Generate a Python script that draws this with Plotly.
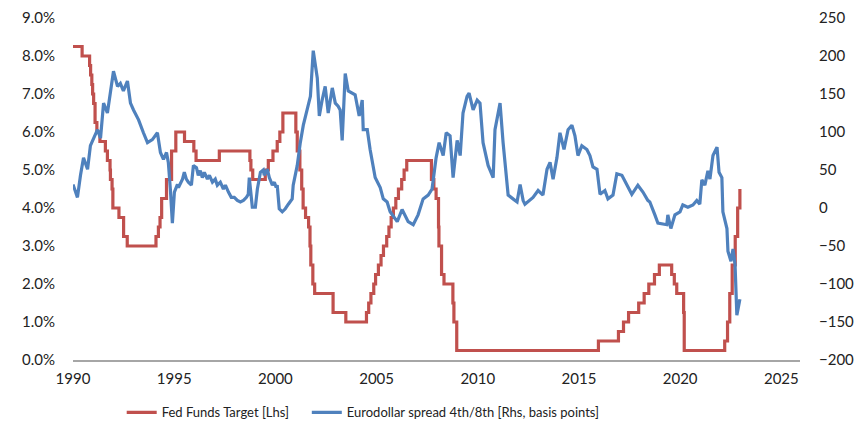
import plotly.graph_objects as go

# Fed Funds Target (upper bound, %), change dates as decimal years
ff_dates = [1990.0, 1990.45, 1990.82, 1990.87, 1990.93, 1990.97, 1991.02, 1991.09, 1991.18, 1991.33,
            1991.6, 1991.7, 1991.83, 1991.85, 1991.93, 1991.97, 1992.27, 1992.5, 1992.68,
            1994.1, 1994.22, 1994.3, 1994.38, 1994.62, 1994.87, 1995.08, 1995.51, 1995.97, 1996.08,
            1997.23, 1998.74, 1998.79, 1998.88, 1999.5, 1999.65, 1999.88, 2000.09, 2000.22, 2000.37,
            2001.01, 2001.08, 2001.21, 2001.3, 2001.37, 2001.49, 2001.64, 2001.71, 2001.75, 2001.85, 2001.94,
            2002.85, 2003.48, 2004.5, 2004.61, 2004.72, 2004.86, 2004.95, 2005.09, 2005.22, 2005.34,
            2005.5, 2005.61, 2005.72, 2005.83, 2005.95, 2006.08, 2006.24, 2006.36, 2006.49,
            2007.71, 2007.83, 2007.94, 2008.06, 2008.08, 2008.21, 2008.33, 2008.77, 2008.82, 2008.96,
            2015.96, 2016.95, 2017.2, 2017.45, 2017.95, 2018.22, 2018.45, 2018.73, 2018.97,
            2019.58, 2019.71, 2019.83, 2020.17, 2020.2, 2022.2, 2022.34, 2022.45, 2022.57, 2022.72,
            2022.84, 2022.95]
ff_values = [8.25, 8.0, 7.75, 7.5, 7.25, 7.0, 6.75, 6.25, 6.0, 5.75,
             5.5, 5.25, 5.0, 4.75, 4.5, 4.0, 3.75, 3.25, 3.0,
             3.25, 3.5, 3.75, 4.25, 4.75, 5.5, 6.0, 5.75, 5.5, 5.25,
             5.5, 5.25, 5.0, 4.75, 5.0, 5.25, 5.5, 5.75, 6.0, 6.5,
             6.0, 5.5, 5.0, 4.5, 4.0, 3.75, 3.5, 3.0, 2.5, 2.0, 1.75,
             1.25, 1.0, 1.25, 1.5, 1.75, 2.0, 2.25, 2.5, 2.75, 3.0,
             3.25, 3.5, 3.75, 4.0, 4.25, 4.5, 4.75, 5.0, 5.25,
             4.75, 4.5, 4.25, 3.5, 3.0, 2.25, 2.0, 1.5, 1.0, 0.25,
             0.5, 0.75, 1.0, 1.25, 1.5, 1.75, 2.0, 2.25, 2.5,
             2.25, 2.0, 1.75, 1.25, 0.25, 0.5, 1.0, 1.75, 2.5, 3.25,
             4.0, 4.5]

# Eurodollar spread 4th/8th (basis points)
ed_dates = [1990.0, 1990.22, 1990.37, 1990.52, 1990.72, 1990.86, 1991.21, 1991.36, 1991.51, 1991.7,
            1992.0, 1992.2, 1992.34, 1992.49, 1992.69, 1992.84, 1992.99, 1993.24, 1993.48, 1993.68,
            1993.92, 1994.17, 1994.32, 1994.47, 1994.62, 1994.71, 1994.81, 1994.91, 1995.01, 1995.16,
            1995.21, 1995.41, 1995.5, 1995.6, 1995.7, 1995.85, 1995.95, 1996.1, 1996.19, 1996.29,
            1996.39, 1996.49, 1996.64, 1996.74, 1996.89, 1997.03, 1997.13, 1997.28, 1997.43, 1997.53,
            1997.68, 1997.82, 1997.97, 1998.12, 1998.27, 1998.42, 1998.57, 1998.66, 1998.71, 1998.86,
            1999.01, 1999.11, 1999.26, 1999.4, 1999.45, 1999.6, 1999.7, 1999.85, 1999.95, 2000.04,
            2000.09, 2000.19, 2000.34, 2000.49, 2000.64, 2000.83, 2000.88, 2001.08, 2001.23, 2001.38,
            2001.73, 2001.87, 2002.07, 2002.17, 2002.31, 2002.46, 2002.61, 2002.81,
            2002.96, 2003.1, 2003.2, 2003.3, 2003.45, 2003.6, 2003.94, 2004.14, 2004.29, 2004.34,
            2004.54, 2004.68, 2004.93, 2005.18, 2005.33, 2005.52, 2005.67, 2006.02, 2006.26, 2006.56,
            2006.81, 2007.05, 2007.3, 2007.55, 2007.74, 2007.94, 2008.09, 2008.29, 2008.44, 2008.63,
            2008.78, 2008.98, 2009.13, 2009.27, 2009.47, 2009.57, 2009.77, 2009.97, 2010.11, 2010.26,
            2010.51, 2010.76, 2010.85, 2011.1, 2011.25, 2011.5, 2011.74, 2011.94, 2012.09, 2012.24,
            2012.33, 2012.73, 2012.98, 2013.22, 2013.42, 2013.57, 2013.72, 2013.91, 2014.06, 2014.26,
            2014.46, 2014.65, 2014.8, 2014.95, 2015.14, 2015.39, 2015.54, 2015.69, 2015.89, 2016.04,
            2016.28, 2016.43, 2016.68, 2016.87, 2017.12, 2017.37, 2017.61, 2017.91, 2018.16, 2018.4,
            2018.5, 2018.75, 2018.9, 2019.34, 2019.39, 2019.54, 2019.74, 2019.99, 2020.13, 2020.38,
            2020.63, 2020.82, 2020.97, 2021.07, 2021.22, 2021.37, 2021.47, 2021.62, 2021.82, 2021.92,
            2022.06, 2022.11, 2022.31, 2022.36, 2022.51, 2022.61, 2022.71, 2022.8, 2022.95]
ed_values = [31, 14, 43, 66, 51, 82, 103, 92, 138, 125,
             180, 160, 164, 154, 167, 138, 129, 116, 99, 86,
             90, 99, 73, 64, 73, 60, 25, -20, 21, 31,
             27, 38, 47, 38, 34, 30, 56, 53, 43, 49,
             40, 47, 38, 43, 34, 38, 30, 34, 25, 30,
             21, 14, 14, 10, 8, 10, 14, 18, 40, 1,
             1, 25, 47, 50, 43, 51, 40, 30, 34, 27,
             30, -1, -5, -1, 5, 12, 30, 56, 86, 109,
             147, 207, 171, 121, 142, 160, 125, 158,
             138, 134, 129, 89, 177, 154, 149, 121, 142, 103,
             103, 77, 40, 27, 12, 8, -5, -18, -2, -18,
             -22, -9, 12, 17, 25, 66, 86, 69, 99, 95,
             40, 89, 69, 125, 147, 151, 129, 142, 138, 86,
             56, 40, 103, 138, 86, 17, 12, 8, 31, 10,
             5, 14, 23, 17, 51, 60, 38, 66, 99, 77,
             103, 109, 95, 69, 82, 77, 69, 54, 51, 18,
             23, 12, 17, 45, 43, 30, 18, 30, 21, 10,
             8, -9, -20, -22, -9, -27, -9, -5, 4, 1,
             4, 10, 5, 37, 30, 49, 38, 69, 80, 47,
             40, -5, -27, -57, -70, -54, -74, -141, -120]

x_ticks = [1990, 1995, 2000, 2005, 2010, 2015, 2020, 2025]

RED = "#C0504D"
BLUE = "#4F81BD"
FONT = "Lato"
TXT = "#222222"

fig = go.Figure()
fig.add_trace(go.Scatter(x=ff_dates, y=ff_values, mode="lines", name="Fed Funds Target [Lhs]",
                         line=dict(color=RED, width=3.2, shape="hv"), yaxis="y", legend="legend"))
fig.add_trace(go.Scatter(x=ed_dates, y=ed_values, mode="lines",
                         name="Eurodollar spread 4th/8th [Rhs, basis points]",
                         line=dict(color=BLUE, width=3.2), yaxis="y2", legend="legend2"))

leg_common = dict(orientation="h", xanchor="left", y=-0.153, yanchor="middle",
                  font=dict(size=13, family=FONT, color=TXT), bgcolor="rgba(0,0,0,0)")

fig.update_layout(
    width=862, height=470,
    margin=dict(l=64.5, r=70, t=10, b=117.5),
    paper_bgcolor="white", plot_bgcolor="white",
    font=dict(family=FONT, size=15, color=TXT),
    xaxis=dict(range=[1990, 2025.92], tickvals=x_ticks, showgrid=False, zeroline=False,
               showline=True, linecolor="#A6A6A6", linewidth=1.5, automargin=False,
               ticks="outside", ticklen=4, tickcolor="rgba(0,0,0,0)",
               tickfont=dict(size=15), ticklabeloverflow="allow"),
    yaxis=dict(range=[0, 9], dtick=1, tickformat=".1f", ticksuffix="%", showgrid=False,
               zeroline=False, showline=False, ticks="outside", ticklen=14, automargin=False,
               tickcolor="rgba(0,0,0,0)", tickfont=dict(size=15), ticklabeloverflow="allow"),
    yaxis2=dict(range=[-200, 250], dtick=50, overlaying="y", side="right", showgrid=False,
                zeroline=False, showline=False, ticks="outside", ticklen=15, automargin=False,
                tickcolor="rgba(0,0,0,0)", tickfont=dict(size=15), ticklabeloverflow="allow"),
    legend=dict(x=0.067, **leg_common),
    legend2=dict(x=0.3216, **leg_common),
    showlegend=True,
)

fig.write_html("out.html")
